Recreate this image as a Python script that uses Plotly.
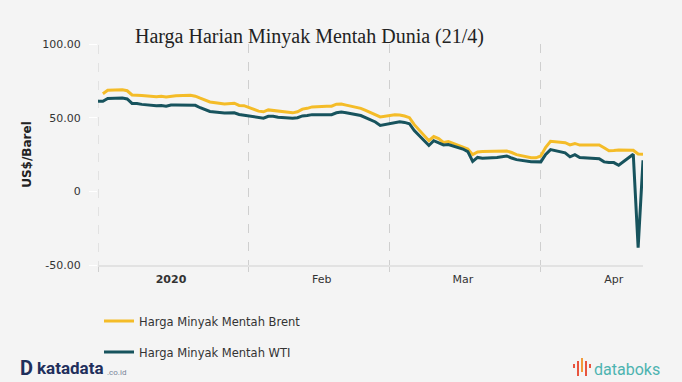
import plotly.graph_objects as go

# ---------------- data ----------------
wti_dates = [
    "2020-01-01", "2020-01-02", "2020-01-03", "2020-01-06", "2020-01-07", "2020-01-08", "2020-01-09",
    "2020-01-10", "2020-01-13", "2020-01-14", "2020-01-15", "2020-01-16", "2020-01-17", "2020-01-21",
    "2020-01-22", "2020-01-23", "2020-01-24", "2020-01-27", "2020-01-28", "2020-01-29", "2020-01-30",
    "2020-01-31", "2020-02-03", "2020-02-04", "2020-02-05", "2020-02-06", "2020-02-07", "2020-02-10",
    "2020-02-11", "2020-02-12", "2020-02-13", "2020-02-14", "2020-02-18", "2020-02-19", "2020-02-20",
    "2020-02-21", "2020-02-24", "2020-02-25", "2020-02-26", "2020-02-27", "2020-02-28", "2020-03-02",
    "2020-03-03", "2020-03-04", "2020-03-05", "2020-03-06", "2020-03-09", "2020-03-10", "2020-03-11",
    "2020-03-12", "2020-03-13", "2020-03-16", "2020-03-17", "2020-03-18", "2020-03-19", "2020-03-20",
    "2020-03-23", "2020-03-24", "2020-03-25", "2020-03-26", "2020-03-27", "2020-03-30", "2020-03-31",
    "2020-04-01", "2020-04-02", "2020-04-03", "2020-04-06", "2020-04-07", "2020-04-08", "2020-04-09",
    "2020-04-13", "2020-04-14", "2020-04-15", "2020-04-16", "2020-04-17", "2020-04-20", "2020-04-21",
    "2020-04-22",
]
wti_values = [
    61.06, 61.17, 63.00, 63.27, 62.70, 59.65, 59.56,
    59.02, 58.06, 58.21, 57.78, 58.54, 58.52, 58.36,
    56.73, 55.58, 54.17, 53.13, 53.46, 53.31, 52.16,
    51.58, 50.07, 49.65, 50.95, 50.98, 50.28, 49.59,
    49.94, 51.17, 51.42, 52.05, 52.05, 53.29, 53.78,
    53.38, 51.43, 49.90, 48.73, 47.09, 44.76, 46.75,
    47.18, 46.78, 45.90, 41.28, 31.13, 34.36, 32.98,
    31.50, 31.73, 28.70, 26.95, 20.37, 23.00, 22.40,
    23.00, 23.50, 24.00, 22.60, 21.51, 20.09, 20.00,
    20.00, 25.00, 28.30, 26.10, 23.40, 24.90, 22.90,
    22.20, 20.00, 19.60, 19.50, 17.70, 25.20, -38.30,
    21.10,
]

brent_dates = [
    "2020-01-02", "2020-01-03", "2020-01-06", "2020-01-07", "2020-01-08", "2020-01-09", "2020-01-10",
    "2020-01-13", "2020-01-14", "2020-01-15", "2020-01-16", "2020-01-17", "2020-01-20", "2020-01-21",
    "2020-01-22", "2020-01-23", "2020-01-24", "2020-01-27", "2020-01-28", "2020-01-29", "2020-01-30",
    "2020-01-31", "2020-02-03", "2020-02-04", "2020-02-05", "2020-02-06", "2020-02-07", "2020-02-10",
    "2020-02-11", "2020-02-12", "2020-02-13", "2020-02-14", "2020-02-17", "2020-02-18", "2020-02-19",
    "2020-02-20", "2020-02-21", "2020-02-24", "2020-02-25", "2020-02-26", "2020-02-27", "2020-02-28",
    "2020-03-02", "2020-03-03", "2020-03-04", "2020-03-05", "2020-03-06", "2020-03-09", "2020-03-10",
    "2020-03-11", "2020-03-12", "2020-03-13", "2020-03-16", "2020-03-17", "2020-03-18", "2020-03-19",
    "2020-03-20", "2020-03-23", "2020-03-24", "2020-03-25", "2020-03-26", "2020-03-27", "2020-03-30",
    "2020-03-31", "2020-04-01", "2020-04-02", "2020-04-03", "2020-04-06", "2020-04-07", "2020-04-08",
    "2020-04-09", "2020-04-13", "2020-04-14", "2020-04-15", "2020-04-16", "2020-04-17", "2020-04-20",
    "2020-04-21", "2020-04-22",
]
brent_values = [
    66.25, 68.60, 68.91, 68.27, 65.44, 65.37, 64.98,
    64.20, 64.49, 64.00, 64.62, 64.85, 65.20, 64.59,
    63.21, 62.04, 60.69, 59.32, 59.51, 59.81, 58.29,
    58.16, 54.45, 53.96, 55.28, 54.93, 54.47, 53.27,
    54.01, 55.79, 56.34, 57.32, 57.67, 57.75, 59.12,
    59.31, 58.50, 56.30, 54.95, 53.43, 52.18, 50.52,
    51.90, 51.86, 51.13, 49.99, 45.27, 34.36, 37.22,
    35.79, 33.22, 33.85, 30.05, 28.73, 24.88, 26.70,
    27.00, 27.00, 27.20, 27.40, 26.34, 24.93, 22.76,
    22.74, 24.00, 29.90, 34.00, 33.00, 31.50, 32.50,
    31.40, 31.50, 29.60, 27.50, 27.70, 28.00, 27.90,
    25.40, 25.20,
]

x_range = ["2020-01-01", "2020-04-22"]
month_starts = ["2020-01-01", "2020-02-01", "2020-03-01", "2020-04-01"]
label_dates = ["2020-01-16", "2020-02-16", "2020-03-16", "2020-04-16"]
label_texts = ["<b>2020</b>", "Feb", "Mar", "Apr"]
y_ticks = [-50, 0, 50, 100]
y_tick_texts = ["-50.00", "0", "50.00", "100.00"]

series_names = ["Harga Minyak Mentah Brent", "Harga Minyak Mentah WTI"]
series_colors = ["#F4BC28", "#17535D"]

# ---------------- layout helpers ----------------
W, H = 682, 382
L, R, T, B = 98, 39, 44, 117
PW, PH = W - L - R, H - T - B


def px(xp):
    return (xp - L) / PW


def py(yp):
    return (H - B - yp) / PH


FONT = "DejaVu Sans"
BG = "#F4F4F4"
GRID = "#CFCFCF"

fig = go.Figure()
fig.add_trace(go.Scatter(x=brent_dates, y=brent_values, mode="lines", name=series_names[0],
                         line=dict(color=series_colors[0], width=3), legend="legend"))
fig.add_trace(go.Scatter(x=wti_dates, y=wti_values, mode="lines", name=series_names[1],
                         line=dict(color=series_colors[1], width=3), legend="legend2"))

fig.update_layout(
    width=W, height=H,
    margin=dict(l=L, r=R, t=T, b=B),
    paper_bgcolor=BG, plot_bgcolor=BG,
    font=dict(family=FONT, size=11, color="#333333"),
    title=dict(text="Harga Harian Minyak Mentah Dunia (21/4)",
               font=dict(family="Liberation Serif", size=20, color="#222222"),
               x=135 / W, xanchor="left", y=1 - 36 / H, yanchor="middle"),
    xaxis=dict(type="date", range=x_range, tickvals=month_starts, ticktext=["", "", "", ""],
               showgrid=True, gridcolor=GRID, griddash="dash", gridwidth=1,
               ticks="outside", ticklen=5, tickcolor=GRID,
               showline=True, linecolor="#E2E2E2", linewidth=2, zeroline=False,
               fixedrange=True),
    xaxis2=dict(type="date", range=x_range, overlaying="x", side="bottom", anchor="y",
                tickvals=label_dates, ticktext=label_texts, showgrid=False, showline=False,
                ticks="outside", ticklen=4, tickcolor="rgba(0,0,0,0)",
                tickfont=dict(family=FONT, size=11, color="#333333"), zeroline=False),
    yaxis=dict(range=[-50, 100], tickvals=y_ticks, ticktext=y_tick_texts,
               showgrid=False, zeroline=False, showline=False,
               ticks="outside", ticklen=8, tickcolor="#FFFFFF", ticklabelstandoff=6,
               tickfont=dict(family=FONT, size=11, color="#333333"),
               title=dict(text="<b>US$/Barel</b>", font=dict(family=FONT, size=12, color="#222222"),
                          standoff=8)),
    legend=dict(x=px(99), y=py(321), xanchor="left", yanchor="middle",
                bgcolor="rgba(0,0,0,0)", font=dict(family=FONT, size=11.5, color="#333333")),
    legend2=dict(x=px(99), y=py(352), xanchor="left", yanchor="middle",
                 bgcolor="rgba(0,0,0,0)", font=dict(family=FONT, size=11.5, color="#333333")),
    showlegend=True,
)

# invisible helper trace so xaxis2 is rendered
fig.add_trace(go.Scatter(x=[x_range[0]], y=[0], xaxis="x2", mode="markers",
                         marker=dict(opacity=0), showlegend=False, hoverinfo="skip"))

# ---------------- logos ----------------
ann = []
ann.append(dict(text="<b>D</b>", x=px(18), y=py(368), xref="paper", yref="paper",
                xanchor="left", yanchor="middle", showarrow=False,
                font=dict(family="Roboto", size=20, color="#1F2F5C")))
ann.append(dict(text="<b>katadata</b>", x=px(35), y=py(368), xref="paper", yref="paper",
                xanchor="left", yanchor="middle", showarrow=False,
                font=dict(family="Roboto", size=17, color="#1F2F5C")))
ann.append(dict(text=".co.id", x=px(105), y=py(372), xref="paper", yref="paper",
                xanchor="left", yanchor="middle", showarrow=False,
                font=dict(family="Roboto", size=8, color="#7A8499")))
ann.append(dict(text="databoks", x=px(592), y=py(369), xref="paper", yref="paper",
                xanchor="left", yanchor="middle", showarrow=False,
                font=dict(family="Roboto", size=16, color="#4DB3B0")))
fig.update_layout(annotations=ann)

shapes = []
# dashed grid line at the left edge of the plot (first month start)
shapes.append(dict(type="line", xref="x", yref="paper", x0=month_starts[0], x1=month_starts[0],
                   y0=-5 / PH, y1=1, line=dict(color=GRID, width=1, dash="dash"), layer="below"))
# databoks icon bars
bars = [(574, 364, 368, "#E8543E"), (578, 361, 376, "#E8543E"), (582, 358, 372, "#F29A3A"),
        (586, 361, 376, "#E8543E"), (590, 364, 368, "#E8543E")]
for bx, y0, y1, c in bars:
    shapes.append(dict(type="rect", xref="paper", yref="paper",
                       x0=px(bx - 1), x1=px(bx + 1), y0=py(y1), y1=py(y0),
                       fillcolor=c, line=dict(width=0)))
fig.update_layout(shapes=shapes)

fig.write_html("out.html", config={"displayModeBar": False},
               post_script="document.body.style.margin='0';document.body.style.background='" + BG + "';")
